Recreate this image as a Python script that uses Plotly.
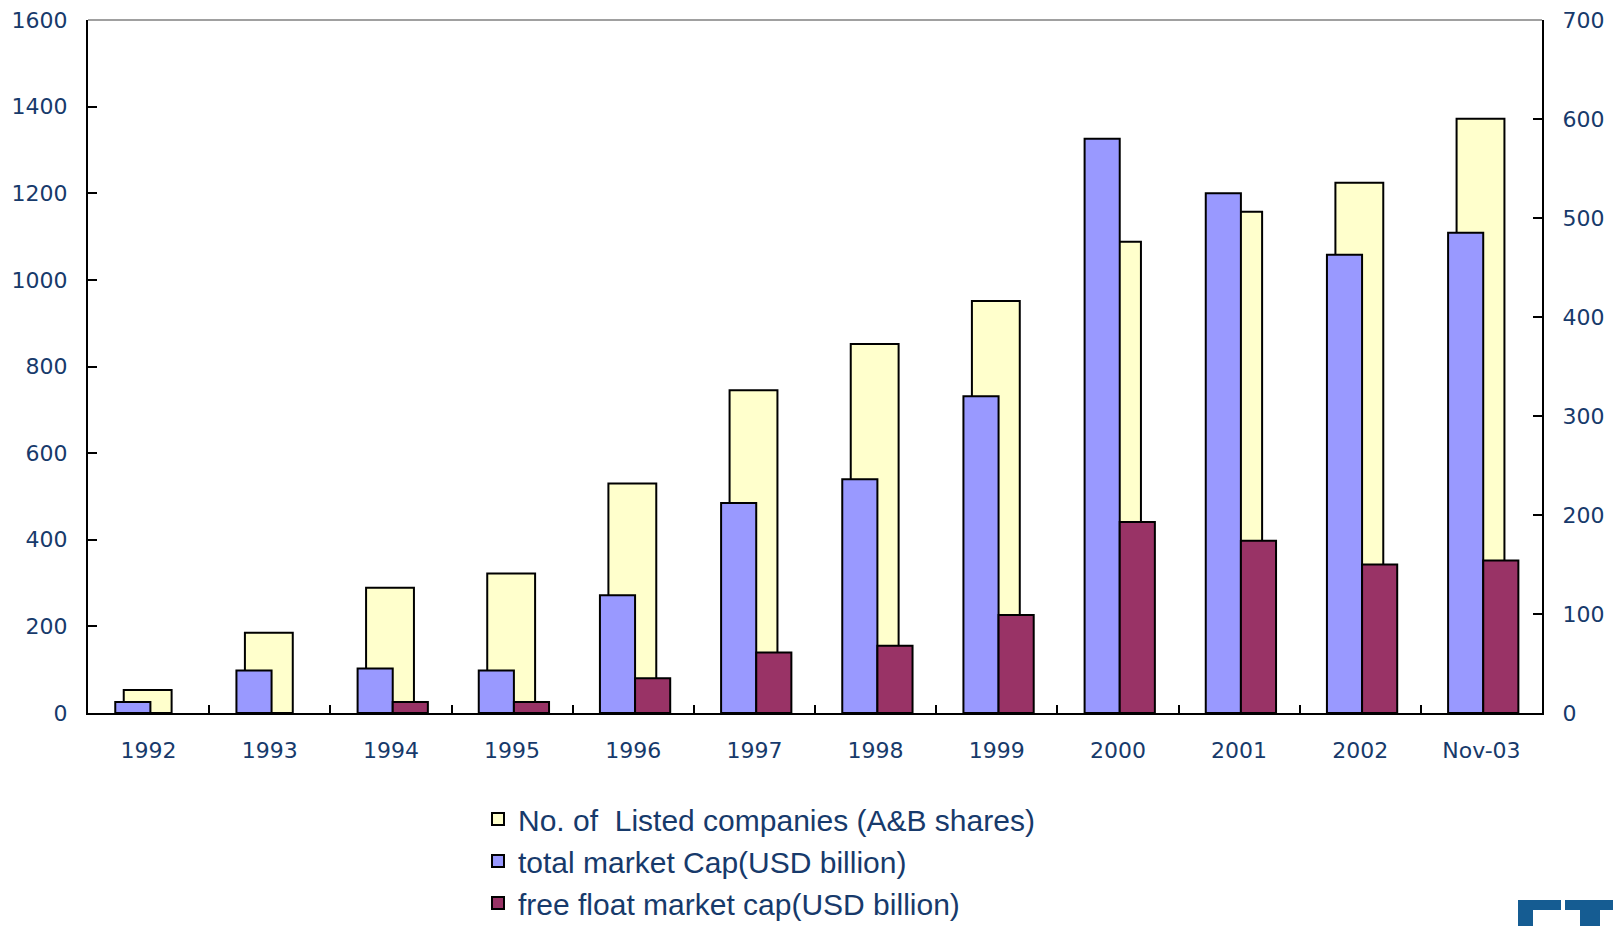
import plotly.graph_objects as go

categories = ["1992", "1993", "1994", "1995", "1996", "1997", "1998", "1999", "2000", "2001", "2002", "Nov-03"]
listed_companies = [53, 185, 289, 322, 530, 745, 852, 951, 1088, 1157, 1224, 1372]
total_market_cap = [11, 43, 45, 43, 119, 212, 236, 320, 580, 525, 463, 485]
free_float_cap = [None, None, 11, 11, 35, 61, 68, 99, 193, 174, 150, 154]

names = ["No. of  Listed companies (A&B shares)",
         "total market Cap(USD billion)",
         "free float market cap(USD billion)"]

W, H = 1613, 926
L, R, T, B = 88, 71, 20, 213
TXT = "#173A6B"

fig = go.Figure()
fig.add_trace(go.Bar(x=categories, y=listed_companies, name=names[0], legendgroup="a",
                     marker=dict(color="#FFFFCC", line=dict(color="black", width=2)),
                     width=0.395, offset=-0.205, yaxis="y"))
fig.add_trace(go.Bar(x=categories, y=total_market_cap, name=names[1], legendgroup="b",
                     marker=dict(color="#9999FF", line=dict(color="black", width=2)),
                     width=0.29, offset=-0.275, yaxis="y2"))
fig.add_trace(go.Bar(x=categories, y=free_float_cap, name=names[2], legendgroup="c",
                     marker=dict(color="#993366", line=dict(color="black", width=2)),
                     width=0.29, offset=0.015, yaxis="y2"))

pw = W - L - R
ph = H - T - B
def px(x):
    return (x - L) / pw
def py(y):
    return (H - B - y) / ph

logo = "#155C92"
shapes = [
    dict(type="line", xref="paper", yref="paper", x0=0, x1=1, y0=1, y1=1,
         line=dict(color="#808080", width=1.5)),
]
for (x0, y0, x1, y1) in [(1518, 900, 1561, 910), (1518, 900, 1533, 926),
                         (1565, 900, 1613, 910), (1580, 900, 1600, 926)]:
    shapes.append(dict(type="rect", xref="paper", yref="paper",
                       x0=px(x0), x1=px(x1), y0=py(y1), y1=py(y0),
                       fillcolor=logo, line=dict(width=0)))

axis_font = dict(size=22, color=TXT, family="DejaVu Sans")
fig.update_layout(
    width=W, height=H,
    margin=dict(l=L, r=R, t=T, b=B, autoexpand=False),
    paper_bgcolor="white", plot_bgcolor="white",
    barmode="overlay",
    showlegend=True,
    font=dict(family="DejaVu Sans", size=21, color=TXT),
    xaxis=dict(type="category", showline=True, linecolor="black", linewidth=2,
               ticks="inside", tickson="boundaries", ticklen=8, tickwidth=2, tickcolor="black",
               showgrid=False, ticklabelstandoff=17, tickfont=axis_font),
    yaxis=dict(range=[0, 1600], dtick=200, showline=True, linecolor="black", linewidth=2,
               ticks="inside", ticklen=9, tickwidth=2, tickcolor="black",
               showgrid=False, zeroline=False, ticklabelstandoff=14, tickfont=axis_font),
    yaxis2=dict(range=[0, 700], dtick=100, overlaying="y", side="right",
                showline=True, linecolor="black", linewidth=2,
                ticks="inside", ticklen=9, tickwidth=2, tickcolor="black",
                showgrid=False, zeroline=False, ticklabelstandoff=14, tickfont=axis_font),
    legend=dict(x=px(478), y=py(793), xanchor="left", yanchor="top",
                bgcolor="rgba(0,0,0,0)", traceorder="normal",
                font=dict(family="Liberation Sans", size=30, color=TXT),
                tracegroupgap=1, itemwidth=30),
    shapes=shapes,
)

fig.write_html("out.html", config={"displayModeBar": False},
               post_script="document.body.style.margin='0';document.body.style.overflow='hidden';")
